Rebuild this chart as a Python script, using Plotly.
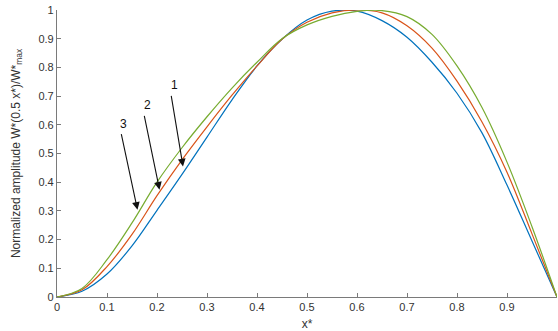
import plotly.graph_objects as go

x_vals = [0, 0.05, 0.1, 0.15, 0.2, 0.25, 0.3, 0.35, 0.4, 0.45, 0.5,
          0.55, 0.6, 0.65, 0.7, 0.75, 0.8, 0.85, 0.9, 0.95, 1.0]
curve1 = [0, 0.02, 0.08, 0.178, 0.302, 0.427, 0.557, 0.687, 0.805, 0.898, 0.965,
          0.996, 0.996, 0.963, 0.905, 0.818, 0.71, 0.572, 0.39, 0.195, 0]
curve2 = [0, 0.025, 0.106, 0.218, 0.353, 0.478, 0.593, 0.703, 0.805, 0.898, 0.957,
          0.99, 1.0, 0.99, 0.945, 0.867, 0.752, 0.61, 0.435, 0.22, 0]
curve3 = [0, 0.03, 0.13, 0.258, 0.4, 0.52, 0.628, 0.728, 0.818, 0.9, 0.948,
          0.978, 0.995, 0.998, 0.977, 0.915, 0.805, 0.66, 0.47, 0.245, 0]

tick_vals = [0, 0.1, 0.2, 0.3, 0.4, 0.5, 0.6, 0.7, 0.8, 0.9, 1]
tick_text = ["0", "0.1", "0.2", "0.3", "0.4", "0.5", "0.6", "0.7", "0.8", "0.9", "1"]

arrow_labels = ["1", "2", "3"]
arrow_tail_x = [0.228, 0.174, 0.128]
arrow_tail_y = [0.706, 0.636, 0.573]
arrow_tip_x = [0.252, 0.205, 0.161]
arrow_tip_y = [0.455, 0.374, 0.304]
label_x = [0.235, 0.18, 0.133]
label_y = [0.738, 0.668, 0.603]

colors = ["#0072BD", "#D95319", "#77AC30"]

fig = go.Figure()
for ys, c in zip([curve1, curve2, curve3], colors):
    fig.add_trace(go.Scatter(x=x_vals, y=ys, mode="lines",
                             line=dict(color=c, width=1.2, shape="spline", smoothing=1.0),
                             showlegend=False, hoverinfo="skip"))

for i in range(3):
    fig.add_annotation(x=arrow_tip_x[i], y=arrow_tip_y[i],
                       ax=arrow_tail_x[i], ay=arrow_tail_y[i],
                       xref="x", yref="y", axref="x", ayref="y",
                       text="", showarrow=True, arrowhead=2, arrowsize=1.4,
                       arrowwidth=1.1, arrowcolor="#111111")
    fig.add_annotation(x=label_x[i], y=label_y[i], xref="x", yref="y",
                       text=arrow_labels[i], showarrow=False,
                       font=dict(family="Liberation Sans, Arial", size=12, color="#111111"))

axis_common = dict(
    showgrid=False, zeroline=False, showline=True, linecolor="#7a7a7a", linewidth=1.2,
    ticks="inside", ticklen=4, tickcolor="#7a7a7a", tickwidth=1,
    tickfont=dict(family="Liberation Sans, Arial", size=11, color="#333333"),
    tickvals=tick_vals, ticktext=tick_text, mirror=False, automargin=False,
)

fig.update_layout(
    width=558, height=331,
    margin=dict(l=57, r=1, t=10, b=34),
    paper_bgcolor="white", plot_bgcolor="white",
    xaxis=dict(range=[0, 1], title=dict(text="x*",
               font=dict(family="Liberation Sans, Arial", size=12, color="#333333")),
               **axis_common),
    yaxis=dict(range=[0, 1], title=dict(text="Normalized amplitude W*(0.5 x*)/W*<sub>max</sub>",
               font=dict(family="Liberation Sans, Arial", size=12, color="#333333")),
               **axis_common),
)

fig.write_html("out.html", config={"displayModeBar": False},
               post_script="document.body.style.margin='0px';")
